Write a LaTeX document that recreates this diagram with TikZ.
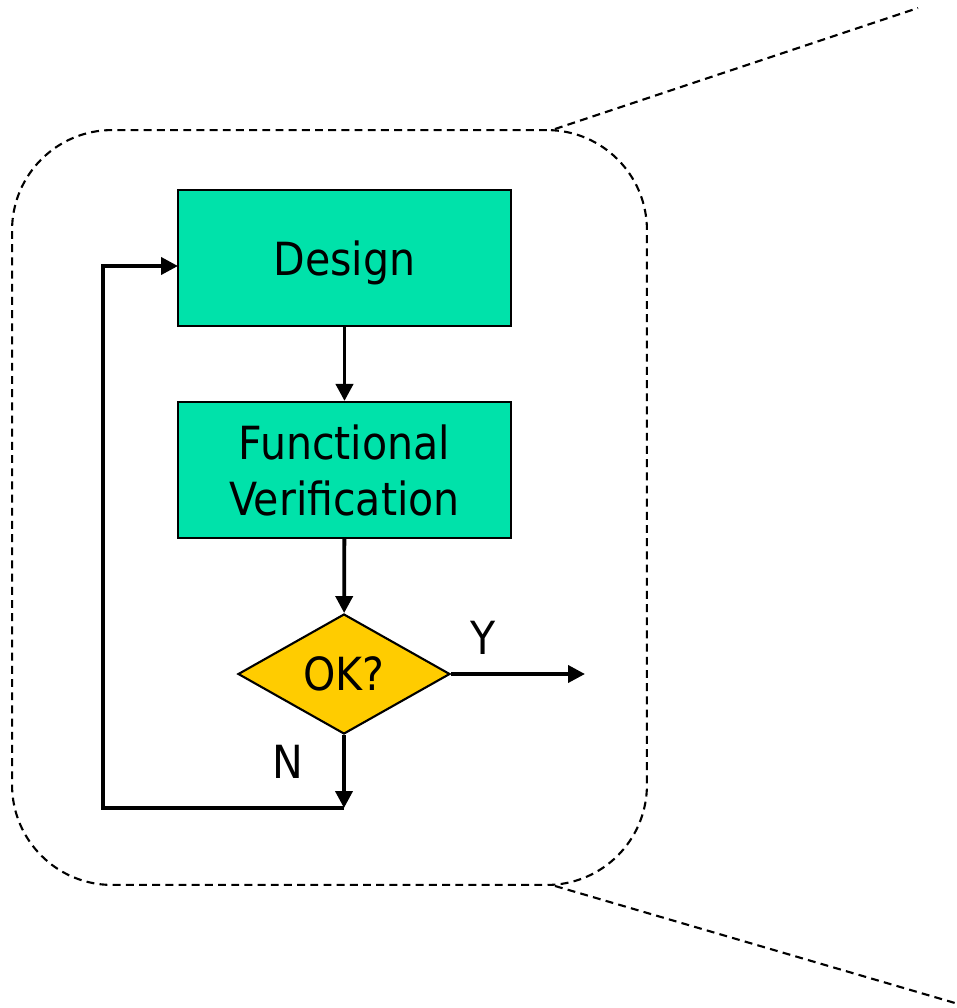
\documentclass[tikz,border=0pt]{standalone}
\usepackage{fontspec}
\setmainfont{DejaVu Sans Condensed}
\usetikzlibrary{shapes.geometric,arrows.meta}
\definecolor{stepgreen}{RGB}{0,226,170}
\definecolor{askyellow}{RGB}{255,204,0}
\tikzstyle{block} = [draw, fill=stepgreen, line width=1.2pt, minimum width=6.66cm, minimum height=2.72cm, align=center, text depth=0pt, font=\fontsize{26}{32}\selectfont]
\tikzstyle{decision} = [draw, diamond, fill=askyellow, line width=1.2pt, minimum width=4.24cm, minimum height=2.4cm, inner sep=0pt, font=\fontsize{26}{32}\selectfont]
\tikzstyle{flow} = [line width=2.2pt, -{Triangle[length=0.34cm,width=0.34cm]}]
\tikzstyle{tag} = [font=\fontsize{26}{32}\selectfont]
\tikzstyle{zoomline} = [line width=1.2pt, dash pattern=on 4.5pt off 3pt]

\begin{document}
\begin{tikzpicture}[x=0.02cm, y=-0.02cm]
    \useasboundingbox (0,0) rectangle (957,1008);
    \draw (329.5,507.5) node[zoomline, draw, rounded corners=2cm, minimum width=12.7cm, minimum height=15.1cm] (frame) {};
    \draw (344.5,258) node[block] (design) {Design};
    \draw (344.5,470) node[block] (verif) {Functional\\Verification};
    \draw (344,674) node[decision] (ok) {OK?};
    \draw (483,638) node[tag] (ylabel) {Y};
    \draw (288,762) node[tag] (nlabel) {N};
    \coordinate (yes) at (585,674);
    \coordinate (no) at (344,808);
    \coordinate (back) at (103,808);
    \coordinate (entry) at (178,266);
    \coordinate (zt) at (918,8);
    \coordinate (zb) at (955,1003);
    \draw [flow] (design) -- (verif);
    \draw [flow] (verif) -- (ok);
    \draw [flow] (ok.east) -- (yes);
    \draw [flow] (ok.south) -- (no);
    \draw [flow] (no) -- (back) |- (entry);
    \draw [zoomline] (frame.north -| 555,0) -- (zt);
    \draw [zoomline] (frame.south -| 555,0) -- (zb);
\end{tikzpicture}
\end{document}
